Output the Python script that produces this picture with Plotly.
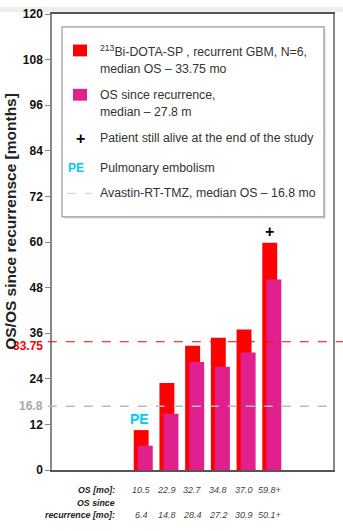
import plotly.graph_objects as go

# ---- data ----
patients = [1, 2, 3, 4, 5, 6]
os_months = [10.5, 22.9, 32.7, 34.8, 37.0, 59.8]
os_recurrence = [6.4, 14.8, 28.4, 27.2, 30.9, 50.1]
os_labels = ["10.5", "22.9", "32.7", "34.8", "37.0", "59.8+"]
rec_labels = ["6.4", "14.8", "28.4", "27.2", "30.9", "50.1+"]
median_bi = 33.75
median_avastin = 16.8
y_ticks = [0, 12, 24, 36, 48, 60, 72, 84, 96, 108, 120]

RED = "#FF0000"
MAG = "#E0208C"
CYAN = "#00CCEE"
SANS = "Liberation Sans, Arial, sans-serif"

W, H = 343, 531
L, R, T, B = 52, 10, 7, 61
PW, PH = W - L - R, H - T - B


def px_x(p):
    return (p - L) / PW


def px_y(p):
    return (H - B - p) / PH


fig = go.Figure()
fig.add_trace(go.Bar(x=patients, y=os_months, marker=dict(color=RED, line_width=0),
                     width=0.58, offset=-0.29, name="OS"))
fig.add_trace(go.Bar(x=patients, y=os_recurrence, marker=dict(color=MAG, line_width=0),
                     width=0.58, offset=-0.13, name="OS since recurrence"))

shapes = []
annotations = []

# median lines
shapes.append(dict(type="line", xref="paper", yref="y", x0=-0.015, x1=1.036,
                   y0=median_bi, y1=median_bi, line=dict(color=RED, width=1.2, dash="dash")))
shapes.append(dict(type="line", xref="paper", yref="y", x0=-0.015, x1=0.99,
                   y0=median_avastin, y1=median_avastin,
                   line=dict(color="#BBBBBB", width=1.5, dash="dash")))
annotations.append(dict(xref="paper", yref="y", x=px_x(45), y=median_bi, yshift=-4,
                        text="<b>33.75</b>", showarrow=False, xanchor="right", yanchor="middle",
                        font=dict(family=SANS, size=12, color=RED)))
annotations.append(dict(xref="paper", yref="y", x=px_x(45), y=median_avastin, yshift=0,
                        text="<b>16.8</b>", showarrow=False, xanchor="right", yanchor="middle",
                        font=dict(family=SANS, size=12, color="#AAAAAA")))

# top band artifact
shapes.append(dict(type="rect", xref="paper", yref="paper", x0=px_x(0), x1=px_x(W),
                   y0=px_y(5), y1=px_y(0), fillcolor="#EEEEEE", line_width=0, layer="below"))

# legend box
shapes.append(dict(type="rect", xref="paper", yref="paper", x0=px_x(64), x1=px_x(326),
                   y0=px_y(215), y1=px_y(22), fillcolor="#E4E4E4", line_width=0))
shapes.append(dict(type="rect", xref="paper", yref="paper", x0=px_x(62), x1=px_x(324),
                   y0=px_y(213), y1=px_y(20), fillcolor="white",
                   line=dict(color="#999999", width=1.2)))
shapes.append(dict(type="rect", xref="paper", yref="paper", x0=px_x(73), x1=px_x(87),
                   y0=px_y(50), y1=px_y(38), fillcolor=RED, line_width=0))
shapes.append(dict(type="rect", xref="paper", yref="paper", x0=px_x(73), x1=px_x(87),
                   y0=px_y(95), y1=px_y(83), fillcolor=MAG, line_width=0))
shapes.append(dict(type="line", xref="paper", yref="paper", x0=px_x(67), x1=px_x(92),
                   y0=px_y(189), y1=px_y(189), line=dict(color="#CCCCCC", width=1, dash="dash")))

legend_lines = [
    ("<sup>213</sup>Bi-DOTA-SP , recurrent GBM, N=6,", 45),
    ("median OS – 33.75 mo", 63),
    ("OS since recurrence,", 89),
    ("median – 27.8 m", 106),
    ("Patient still alive at the end of the study", 133),
    ("Pulmonary embolism", 163),
    ("Avastin-RT-TMZ, median OS – 16.8 mo", 189),
]
for txt, yy in legend_lines:
    annotations.append(dict(xref="paper", yref="paper", x=px_x(98), y=px_y(yy),
                            xanchor="left", yanchor="middle", text=txt, showarrow=False,
                            font=dict(family=SANS, size=12.3, color="#333333")))
annotations.append(dict(xref="paper", yref="paper", x=px_x(80), y=px_y(133), text="<b>+</b>",
                        showarrow=False, xanchor="center", yanchor="middle",
                        font=dict(family=SANS, size=16, color="black")))
annotations.append(dict(xref="paper", yref="paper", x=px_x(76), y=px_y(163), text="<b>PE</b>",
                        showarrow=False, xanchor="center", yanchor="middle",
                        font=dict(family=SANS, size=12, color=CYAN)))

# markers above bars
annotations.append(dict(x=patients[5], y=os_months[5] + 3, text="<b>+</b>", showarrow=False,
                        xanchor="center", yanchor="middle",
                        font=dict(family=SANS, size=16, color="black")))
annotations.append(dict(x=patients[0] - 0.05, y=os_months[0] + 2.8, text="<b>PE</b>", showarrow=False,
                        xanchor="center", yanchor="middle",
                        font=dict(family=SANS, size=14, color=CYAN)))

# table under chart
for p, a, b in zip(patients, os_labels, rec_labels):
    annotations.append(dict(x=p, xref="x", yref="paper", y=px_y(490), text=f"<i>{a}</i>",
                            showarrow=False, xanchor="center", yanchor="middle",
                            font=dict(family=SANS, size=9, color="#444444")))
    annotations.append(dict(x=p, xref="x", yref="paper", y=px_y(516), text=f"<i>{b}</i>",
                            showarrow=False, xanchor="center", yanchor="middle",
                            font=dict(family=SANS, size=9, color="#444444")))
for txt, yy in [("OS [mo]:", 490), ("OS since", 504), ("recurrence [mo]:", 516)]:
    annotations.append(dict(xref="paper", yref="paper", x=px_x(117), y=px_y(yy),
                            text=f"<b><i>{txt}</i></b>", showarrow=False,
                            xanchor="right", yanchor="middle",
                            font=dict(family=SANS, size=8.8, color="#222222")))

# y axis title
annotations.append(dict(xref="paper", yref="paper", x=px_x(11), y=px_y(218),
                        text="<b>OS/OS since recurrensce [months]</b>", textangle=-90,
                        showarrow=False, xanchor="center", yanchor="middle",
                        font=dict(family=SANS, size=15.5, color="#222222")))

fig.update_layout(
    width=W, height=H,
    margin=dict(l=L, r=R, t=T, b=B, pad=0),
    paper_bgcolor="white", plot_bgcolor="white",
    barmode="overlay", showlegend=False,
    shapes=shapes, annotations=annotations,
    xaxis=dict(range=[-2.469, 8.46], showticklabels=False, ticks="", showgrid=False,
               zeroline=False, showline=True, linecolor="#555555", linewidth=1.5,
               mirror=True),
    yaxis=dict(range=[0, 120], tickvals=y_ticks, ticktext=[str(v) for v in y_ticks],
               ticks="outside", ticklen=5, tickcolor="#888888", showgrid=False,
               zeroline=False, showline=True, linecolor="#888888", linewidth=1.5,
               mirror=True,
               tickfont=dict(family=SANS, size=12, color="#111111", weight="bold")),
)

fig.write_html("out.html")
